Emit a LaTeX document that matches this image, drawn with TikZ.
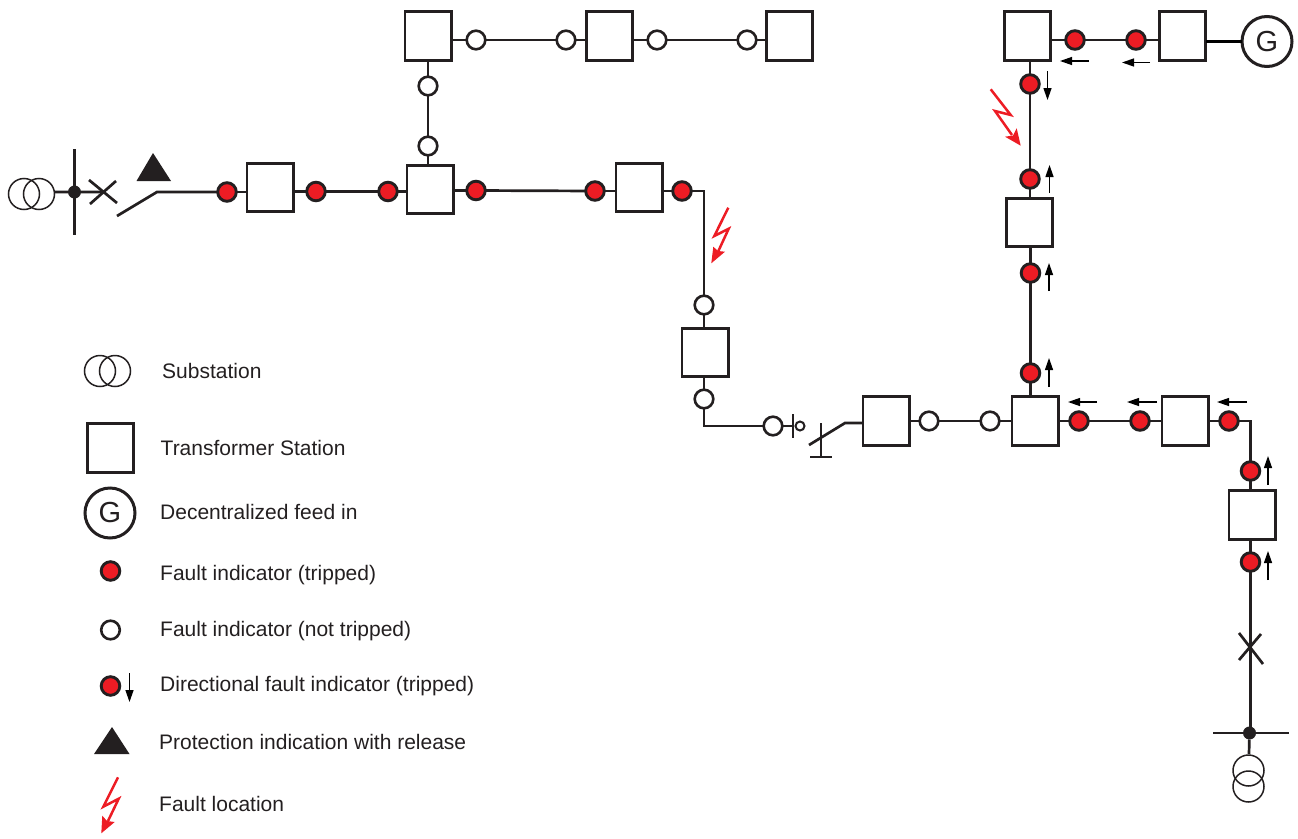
\documentclass[tikz,border=0pt]{standalone}
\usepackage{fontspec}
\setmainfont{Liberation Sans}
\usetikzlibrary{arrows.meta}
\definecolor{ink}{HTML}{231F20}
\definecolor{faultred}{HTML}{ED1C24}
\tikzset{
  x=1pt,y=-1pt,
  line/.style={draw=ink,line width=2.7pt},
  tbox/.style={draw=ink,line width=2.7pt,fill=white,minimum width=46.3pt,minimum height=48.6pt,inner sep=0pt,outer sep=0pt},
  ftrip/.style={circle,draw=ink,line width=2.9pt,fill=faultred,minimum size=18.6pt,inner sep=0pt,outer sep=0pt},
  fnot/.style={circle,draw=ink,line width=2.6pt,fill=white,minimum size=18.6pt,inner sep=0pt,outer sep=0pt},
  sub/.style={circle,draw=ink,line width=1.5pt,minimum size=31pt,inner sep=0pt,outer sep=0pt},
  gen/.style={circle,draw=ink,line width=3pt,fill=white,minimum size=50pt,inner sep=0pt,outer sep=0pt,font=\fontsize{29}{29}\selectfont,text=ink},
  busdot/.style={circle,fill=ink,minimum size=13pt,inner sep=0pt,outer sep=0pt},
  tri/.style={fill=ink},
  dirarrow/.style={draw=black,line width=1.3pt,-{Triangle[length=12pt,width=8pt]}},
  bolt/.style={draw=faultred,line width=2.5pt,line join=miter},
  bolthead/.style={fill=faultred},
  legend/.style={anchor=base west,inner sep=0pt,text=ink,font=\fontsize{21}{24}\selectfont}
}
\newcommand{\darrow}[5]{\coordinate (#1s) at (#2,#3);\coordinate (#1e) at (#4,#5);\draw[dirarrow] (#1s) -- (#1e);}
\newcommand{\boltshape}[9]{\coordinate (#1a) at #2;\coordinate (#1b) at #3;\coordinate (#1c) at #4;\coordinate (#1d) at #5;\coordinate (#1t) at #6;\coordinate (#1l) at #7;\coordinate (#1r) at #8;\draw[bolt] (#1a) -- (#1b) -- (#1c) -- (#1d);\fill[bolthead] (#1t) -- (#1l) -- #9 -- (#1r) -- cycle;}
\begin{document}
\begin{tikzpicture}
\useasboundingbox (0,0) rectangle (1298,838);
% --- substation left
\node[sub] (s1a) at (24,194) {};
\node[sub] (s1b) at (39,194) {};
\node[busdot] (bus1) at (74.5,192) {};
\coordinate (bus1t) at (74.5,149);
\coordinate (bus1b) at (74.5,235);
\coordinate (cb1) at (103,192);
\coordinate (cb1a) at (89,180); \coordinate (cb1b) at (117,203);
\coordinate (cb1c) at (90,204); \coordinate (cb1d) at (116,181);
\coordinate (sw1a) at (117,216); \coordinate (sw1b) at (157,192);
\draw[line] (bus1t) -- (bus1b);
\draw[line] (s1b) -- (bus1 -| s1b.east) -- (cb1);
\draw[line] (cb1a) -- (cb1b);
\draw[line] (cb1c) -- (cb1d);
\fill[tri] (153,153) -- (136.5,181) -- (171,181) -- cycle;
% --- main line
\node[ftrip] (f1) at (227,192) {};
\node[tbox] (b1) at (270,187.5) {};
\node[ftrip] (f2) at (316,191.5) {};
\node[ftrip] (f3) at (388,191.5) {};
\node[tbox] (b2) at (430,189.5) {};
\node[ftrip] (f4) at (476,190.5) {};
\node[ftrip] (f5) at (595,191) {};
\node[tbox] (b3) at (639,187.5) {};
\node[ftrip] (f6) at (682,191) {};
\draw[line] (sw1a) -- (sw1b) -- (f1);
\draw[line] (f1) -- (f1 -| b1.west);
\draw[line] (f2) -- (f2 -| b1.east);
\draw[line] (f2) -- (f3);
\draw[line] (f3) -- (f3 -| b2.west);
\draw[line] (f4) -- (f4 -| b2.east);
\draw[line] (f4) -- (f5);
\draw[line] (f5) -- (f5 -| b3.west);
\draw[line] (f6) -- (f6 -| b3.east);
% --- top branch
\node[tbox] (t1) at (428,36) {};
\node[fnot] (n1) at (428,86) {};
\node[fnot] (n2) at (428,146) {};
\node[fnot] (n3) at (476,40) {};
\node[fnot] (n4) at (566,40) {};
\node[tbox] (t2) at (609.5,36) {};
\node[fnot] (n5) at (657,40) {};
\node[fnot] (n6) at (747,40) {};
\node[tbox] (t3) at (789.5,36) {};
\draw[line] (b2.north -| n2) -- (n2);
\draw[line] (n2) -- (n1) -- (t1);
\draw[line] (n3) -- (n3 -| t1.east);
\draw[line] (n3) -- (n4);
\draw[line] (n4) -- (n4 -| t2.west);
\draw[line] (n5) -- (n5 -| t2.east);
\draw[line] (n5) -- (n6);
\draw[line] (n6) -- (n6 -| t3.west);
% --- middle feeder
\node[fnot] (n7) at (704,305) {};
\node[tbox] (b4) at (705,352.5) {};
\node[fnot] (n8) at (704,399) {};
\node[fnot] (n9) at (773,426) {};
\draw[line] (f6) -| (n7);
\draw[line] (n7) -- (n7 |- b4.north);
\draw[line] (n8) -- (n8 |- b4.south);
\draw[line] (n8) |- (n9);
\coordinate (sep) at (793,426);
\coordinate (sept) at (793,414);
\coordinate (sepb) at (793,437.5);
\node[circle,draw=ink,line width=2pt,minimum size=9pt,inner sep=0pt,fill=white] (earth) at (800,426) {};
\draw[line] (n9) -- (sep);
\draw[line] (sept) -- (sepb);
\coordinate (sw2a) at (809,445);
\coordinate (sw2b) at (845,423);
\coordinate (gt) at (821,423);
\coordinate (gb) at (821,457);
\coordinate (gl) at (810,457);
\coordinate (gr) at (832,457);
\draw[line] (gt) -- (gb);
\draw[line] (gl) -- (gr);
\node[tbox] (b5) at (886,421) {};
\node[fnot] (n10) at (929,421) {};
\node[fnot] (n11) at (990,421) {};
\node[tbox] (b6) at (1035,421) {};
\node[ftrip] (f7) at (1079,421) {};
\node[ftrip] (f8) at (1140,421) {};
\node[tbox] (b7) at (1185,421) {};
\node[ftrip] (f9) at (1229,421) {};
\draw[line] (sw2a) -- (sw2b) -- (b5.west |- sw2b);
\draw[line] (n10) -- (b5);
\draw[line] (n10) -- (n11) -- (b6);
\draw[line] (b6) -- (f7) -- (f8) -- (b7);
\draw[line] (b7) -- (f9);
% --- right feeder
\node[ftrip] (f10) at (1250.5,471) {};
\node[tbox] (b8) at (1252,515) {};
\node[ftrip] (f11) at (1250.5,562) {};
\coordinate (cb2a) at (1239,633); \coordinate (cb2b) at (1263,664);
\coordinate (cb2c) at (1239,660); \coordinate (cb2d) at (1261,634);
\node[busdot] (bus2) at (1249.5,733) {};
\coordinate (bus2l) at (1213,733);
\coordinate (bus2r) at (1289,733);
\coordinate (bus2s) at (1249,754);
\node[sub] (s2a) at (1248.5,770.5) {};
\node[sub] (s2b) at (1248.5,786.5) {};
\draw[line] (f9) -| (f10);
\draw[line] (f10) -- (f10 |- b8.north);
\draw[line] (f11) -- (f11 |- b8.south);
\draw[line] (f11) -- (f11 |- bus2);
\draw[line] (cb2a) -- (cb2b);
\draw[line] (cb2c) -- (cb2d);
\draw[line] (bus2l) -- (bus2r);
\draw[line] (bus2) -- (bus2s);
% --- upper right feeder
\node[ftrip] (f12) at (1030.5,373) {};
\node[ftrip] (f13) at (1030.5,273) {};
\node[tbox] (b9) at (1029.5,222.5) {};
\node[ftrip] (f14) at (1030,179) {};
\node[ftrip] (f15) at (1030,84) {};
\node[tbox] (b10) at (1027.5,36) {};
\node[ftrip] (f16) at (1075,40) {};
\node[ftrip] (f17) at (1136,40) {};
\node[tbox] (b11) at (1182.5,36) {};
\node[gen] (g1) at (1267,41.5) {G};
\draw[line] (f12) -- (f12 |- b6.north);
\draw[line] (f12) -- (f13);
\draw[line] (f13) -- (f13 |- b9.south);
\draw[line] (f14) -- (f14 |- b9.north);
\draw[line] (f14) -- (f15);
\draw[line] (f15) -- (f15 |- b10.south);
\draw[line] (f16) -- (f16 -| b10.east);
\draw[line] (f16) -- (f17);
\draw[line] (f17) -- (f17 -| b11.west);
\draw[draw=black,line width=3.6pt] (g1) -- (g1 -| b11.east);
% --- direction arrows
\darrow{a1}{1089}{61}{1060}{61}
\darrow{a2}{1150}{62.5}{1122}{62.5}
\darrow{a3}{1047.5}{71}{1047.5}{100}
\darrow{a4}{1049.5}{193}{1049.5}{165}
\darrow{a5}{1049}{291}{1049}{263}
\darrow{a6}{1049}{387}{1049}{358}
\darrow{a7}{1097}{402}{1068}{402}
\darrow{a8}{1157}{402}{1127}{402}
\darrow{a9}{1247}{402}{1217}{402}
\darrow{a10}{1268}{485}{1268}{456}
\darrow{a11}{1268}{580}{1268}{551}
% --- fault bolts
\boltshape{z1}{(728.3,207.7)}{(714.3,236)}{(728.7,228.7)}{(717,254)}{(711.3,263.3)}{(713.3,246.7)}{(725,251.7)}{(718,251)}
\boltshape{z2}{(990.7,89.3)}{(1010.7,115)}{(995,111)}{(1012,135)}{(1020.7,145.7)}{(1005,136.7)}{(1016.7,128.3)}{(1013,135.5)}
% --- legend
\node[sub] (ls1) at (100,371) {};
\node[sub] (ls2) at (115,371) {};
\node[legend] (lt1) at (162,378) {Substation};
\node[tbox] (lb) at (110.5,448) {};
\node[legend] (lt2) at (160.5,455) {Transformer Station};
\node[gen] (lg) at (110,513) {G};
\node[legend] (lt3) at (160,519) {Decentralized feed in};
\node[ftrip] (lf1) at (110.5,571) {};
\node[legend] (lt4) at (160,580) {Fault indicator (tripped)};
\node[fnot] (lf2) at (110.5,630) {};
\node[legend] (lt5) at (160,636) {Fault indicator (not tripped)};
\node[ftrip] (lf3) at (110.5,686) {};
\darrow{la}{129.5}{673}{129.5}{702}
\node[legend] (lt6) at (160,691) {Directional fault indicator (tripped)};
\fill[tri] (112,727) -- (94,754) -- (129.5,754) -- cycle;
\node[legend] (lt7) at (159,749) {Protection indication with release};
\boltshape{z3}{(118,777.3)}{(103.3,806.7)}{(118.7,798.7)}{(108,821)}{(101.3,833.3)}{(102.3,815.7)}{(114.7,822)}{(107,821)}
\node[legend] (lt8) at (159,811) {Fault location};
\end{tikzpicture}
\end{document}
